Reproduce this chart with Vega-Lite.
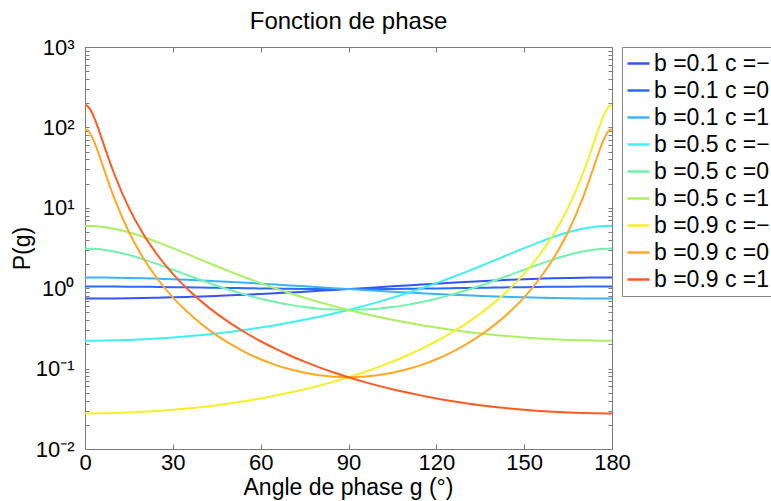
{
  "$schema": "https://vega.github.io/schema/vega-lite/v6.json",
  "autosize": {"type": "none"},
  "padding": {"left": 85, "top": 47, "right": 160, "bottom": 52},
  "width": 527,
  "height": 402,
  "title": {"text": "Fonction de phase", "fontSize": 24, "font": "Liberation Sans", "fontWeight": "normal", "color": "black", "offset": 8, "dy": 25, "anchor": "middle", "baseline": "alphabetic"},
  "config": {
    "view": {"stroke": null},
    "font": "Liberation Sans",
    "axis": {"labelFont": "Liberation Sans", "titleFont": "Liberation Sans", "labelFontSize": 22, "titleFontSize": 23, "titleFontWeight": "normal", "labelColor": "black", "titleColor": "black", "domainColor": "#7a7a7a", "tickColor": "#7a7a7a", "grid": false, "labelOverlap": false, "labelFlush": false},
    "legend": {"labelFont": "Liberation Sans", "labelFontSize": 23, "labelColor": "black", "labelLimit": 400}
  },
  "data": {"values": [
    {"g":0,"P":0.744,"s":"b =0.1 c =−1"},{"g":5,"P":0.745,"s":"b =0.1 c =−1"},{"g":10,"P":0.747,"s":"b =0.1 c =−1"},{"g":15,"P":0.750,"s":"b =0.1 c =−1"},{"g":20,"P":0.755,"s":"b =0.1 c =−1"},{"g":25,"P":0.761,"s":"b =0.1 c =−1"},{"g":30,"P":0.769,"s":"b =0.1 c =−1"},{"g":35,"P":0.778,"s":"b =0.1 c =−1"},{"g":40,"P":0.789,"s":"b =0.1 c =−1"},{"g":45,"P":0.801,"s":"b =0.1 c =−1"},{"g":50,"P":0.815,"s":"b =0.1 c =−1"},{"g":55,"P":0.830,"s":"b =0.1 c =−1"},{"g":60,"P":0.847,"s":"b =0.1 c =−1"},{"g":65,"P":0.865,"s":"b =0.1 c =−1"},{"g":70,"P":0.884,"s":"b =0.1 c =−1"},{"g":75,"P":0.905,"s":"b =0.1 c =−1"},{"g":80,"P":0.927,"s":"b =0.1 c =−1"},{"g":85,"P":0.951,"s":"b =0.1 c =−1"},{"g":90,"P":0.975,"s":"b =0.1 c =−1"},{"g":95,"P":1.001,"s":"b =0.1 c =−1"},{"g":100,"P":1.028,"s":"b =0.1 c =−1"},{"g":105,"P":1.055,"s":"b =0.1 c =−1"},{"g":110,"P":1.084,"s":"b =0.1 c =−1"},{"g":115,"P":1.112,"s":"b =0.1 c =−1"},{"g":120,"P":1.140,"s":"b =0.1 c =−1"},{"g":125,"P":1.169,"s":"b =0.1 c =−1"},{"g":130,"P":1.196,"s":"b =0.1 c =−1"},{"g":135,"P":1.223,"s":"b =0.1 c =−1"},{"g":140,"P":1.248,"s":"b =0.1 c =−1"},{"g":145,"P":1.272,"s":"b =0.1 c =−1"},{"g":150,"P":1.293,"s":"b =0.1 c =−1"},{"g":155,"P":1.312,"s":"b =0.1 c =−1"},{"g":160,"P":1.328,"s":"b =0.1 c =−1"},{"g":165,"P":1.341,"s":"b =0.1 c =−1"},{"g":170,"P":1.350,"s":"b =0.1 c =−1"},{"g":175,"P":1.356,"s":"b =0.1 c =−1"},{"g":180,"P":1.358,"s":"b =0.1 c =−1"},

    {"g":0,"P":1.051,"s":"b =0.1 c =0"},{"g":5,"P":1.051,"s":"b =0.1 c =0"},{"g":10,"P":1.049,"s":"b =0.1 c =0"},{"g":15,"P":1.046,"s":"b =0.1 c =0"},{"g":20,"P":1.042,"s":"b =0.1 c =0"},{"g":25,"P":1.037,"s":"b =0.1 c =0"},{"g":30,"P":1.031,"s":"b =0.1 c =0"},{"g":35,"P":1.025,"s":"b =0.1 c =0"},{"g":40,"P":1.019,"s":"b =0.1 c =0"},{"g":45,"P":1.012,"s":"b =0.1 c =0"},{"g":50,"P":1.006,"s":"b =0.1 c =0"},{"g":55,"P":1.000,"s":"b =0.1 c =0"},{"g":60,"P":0.994,"s":"b =0.1 c =0"},{"g":65,"P":0.989,"s":"b =0.1 c =0"},{"g":70,"P":0.984,"s":"b =0.1 c =0"},{"g":75,"P":0.980,"s":"b =0.1 c =0"},{"g":80,"P":0.978,"s":"b =0.1 c =0"},{"g":85,"P":0.976,"s":"b =0.1 c =0"},{"g":90,"P":0.975,"s":"b =0.1 c =0"},{"g":95,"P":0.976,"s":"b =0.1 c =0"},{"g":100,"P":0.978,"s":"b =0.1 c =0"},{"g":105,"P":0.980,"s":"b =0.1 c =0"},{"g":110,"P":0.984,"s":"b =0.1 c =0"},{"g":115,"P":0.989,"s":"b =0.1 c =0"},{"g":120,"P":0.994,"s":"b =0.1 c =0"},{"g":125,"P":1.000,"s":"b =0.1 c =0"},{"g":130,"P":1.006,"s":"b =0.1 c =0"},{"g":135,"P":1.012,"s":"b =0.1 c =0"},{"g":140,"P":1.019,"s":"b =0.1 c =0"},{"g":145,"P":1.025,"s":"b =0.1 c =0"},{"g":150,"P":1.031,"s":"b =0.1 c =0"},{"g":155,"P":1.037,"s":"b =0.1 c =0"},{"g":160,"P":1.042,"s":"b =0.1 c =0"},{"g":165,"P":1.046,"s":"b =0.1 c =0"},{"g":170,"P":1.049,"s":"b =0.1 c =0"},{"g":175,"P":1.051,"s":"b =0.1 c =0"},{"g":180,"P":1.051,"s":"b =0.1 c =0"},

    {"g":0,"P":1.358,"s":"b =0.1 c =1"},{"g":5,"P":1.356,"s":"b =0.1 c =1"},{"g":10,"P":1.350,"s":"b =0.1 c =1"},{"g":15,"P":1.341,"s":"b =0.1 c =1"},{"g":20,"P":1.328,"s":"b =0.1 c =1"},{"g":25,"P":1.312,"s":"b =0.1 c =1"},{"g":30,"P":1.293,"s":"b =0.1 c =1"},{"g":35,"P":1.272,"s":"b =0.1 c =1"},{"g":40,"P":1.248,"s":"b =0.1 c =1"},{"g":45,"P":1.223,"s":"b =0.1 c =1"},{"g":50,"P":1.196,"s":"b =0.1 c =1"},{"g":55,"P":1.169,"s":"b =0.1 c =1"},{"g":60,"P":1.140,"s":"b =0.1 c =1"},{"g":65,"P":1.112,"s":"b =0.1 c =1"},{"g":70,"P":1.084,"s":"b =0.1 c =1"},{"g":75,"P":1.055,"s":"b =0.1 c =1"},{"g":80,"P":1.028,"s":"b =0.1 c =1"},{"g":85,"P":1.001,"s":"b =0.1 c =1"},{"g":90,"P":0.975,"s":"b =0.1 c =1"},{"g":95,"P":0.951,"s":"b =0.1 c =1"},{"g":100,"P":0.927,"s":"b =0.1 c =1"},{"g":105,"P":0.905,"s":"b =0.1 c =1"},{"g":110,"P":0.884,"s":"b =0.1 c =1"},{"g":115,"P":0.865,"s":"b =0.1 c =1"},{"g":120,"P":0.847,"s":"b =0.1 c =1"},{"g":125,"P":0.830,"s":"b =0.1 c =1"},{"g":130,"P":0.815,"s":"b =0.1 c =1"},{"g":135,"P":0.801,"s":"b =0.1 c =1"},{"g":140,"P":0.789,"s":"b =0.1 c =1"},{"g":145,"P":0.778,"s":"b =0.1 c =1"},{"g":150,"P":0.769,"s":"b =0.1 c =1"},{"g":155,"P":0.761,"s":"b =0.1 c =1"},{"g":160,"P":0.755,"s":"b =0.1 c =1"},{"g":165,"P":0.750,"s":"b =0.1 c =1"},{"g":170,"P":0.747,"s":"b =0.1 c =1"},{"g":175,"P":0.745,"s":"b =0.1 c =1"},{"g":180,"P":0.744,"s":"b =0.1 c =1"},

    {"g":0,"P":0.2222,"s":"b =0.5 c =−1"},{"g":5,"P":0.2228,"s":"b =0.5 c =−1"},{"g":10,"P":0.2245,"s":"b =0.5 c =−1"},{"g":15,"P":0.2274,"s":"b =0.5 c =−1"},{"g":20,"P":0.2315,"s":"b =0.5 c =−1"},{"g":25,"P":0.2369,"s":"b =0.5 c =−1"},{"g":30,"P":0.2437,"s":"b =0.5 c =−1"},{"g":35,"P":0.2520,"s":"b =0.5 c =−1"},{"g":40,"P":0.2620,"s":"b =0.5 c =−1"},{"g":45,"P":0.2739,"s":"b =0.5 c =−1"},{"g":50,"P":0.2880,"s":"b =0.5 c =−1"},{"g":55,"P":0.3046,"s":"b =0.5 c =−1"},{"g":60,"P":0.3240,"s":"b =0.5 c =−1"},{"g":65,"P":0.3467,"s":"b =0.5 c =−1"},{"g":70,"P":0.3734,"s":"b =0.5 c =−1"},{"g":75,"P":0.4047,"s":"b =0.5 c =−1"},{"g":80,"P":0.4415,"s":"b =0.5 c =−1"},{"g":85,"P":0.4851,"s":"b =0.5 c =−1"},{"g":90,"P":0.5367,"s":"b =0.5 c =−1"},{"g":95,"P":0.5981,"s":"b =0.5 c =−1"},{"g":100,"P":0.6716,"s":"b =0.5 c =−1"},{"g":105,"P":0.7600,"s":"b =0.5 c =−1"},{"g":110,"P":0.8669,"s":"b =0.5 c =−1"},{"g":115,"P":0.9966,"s":"b =0.5 c =−1"},{"g":120,"P":1.155,"s":"b =0.5 c =−1"},{"g":125,"P":1.348,"s":"b =0.5 c =−1"},{"g":130,"P":1.585,"s":"b =0.5 c =−1"},{"g":135,"P":1.875,"s":"b =0.5 c =−1"},{"g":140,"P":2.228,"s":"b =0.5 c =−1"},{"g":145,"P":2.652,"s":"b =0.5 c =−1"},{"g":150,"P":3.152,"s":"b =0.5 c =−1"},{"g":155,"P":3.722,"s":"b =0.5 c =−1"},{"g":160,"P":4.339,"s":"b =0.5 c =−1"},{"g":165,"P":4.954,"s":"b =0.5 c =−1"},{"g":170,"P":5.492,"s":"b =0.5 c =−1"},{"g":175,"P":5.866,"s":"b =0.5 c =−1"},{"g":180,"P":6.000,"s":"b =0.5 c =−1"},

    {"g":0,"P":3.111,"s":"b =0.5 c =0"},{"g":5,"P":3.044,"s":"b =0.5 c =0"},{"g":10,"P":2.858,"s":"b =0.5 c =0"},{"g":15,"P":2.591,"s":"b =0.5 c =0"},{"g":20,"P":2.285,"s":"b =0.5 c =0"},{"g":25,"P":1.980,"s":"b =0.5 c =0"},{"g":30,"P":1.698,"s":"b =0.5 c =0"},{"g":35,"P":1.452,"s":"b =0.5 c =0"},{"g":40,"P":1.245,"s":"b =0.5 c =0"},{"g":45,"P":1.074,"s":"b =0.5 c =0"},{"g":50,"P":0.9365,"s":"b =0.5 c =0"},{"g":55,"P":0.8263,"s":"b =0.5 c =0"},{"g":60,"P":0.7395,"s":"b =0.5 c =0"},{"g":65,"P":0.6717,"s":"b =0.5 c =0"},{"g":70,"P":0.6202,"s":"b =0.5 c =0"},{"g":75,"P":0.5824,"s":"b =0.5 c =0"},{"g":80,"P":0.5566,"s":"b =0.5 c =0"},{"g":85,"P":0.5416,"s":"b =0.5 c =0"},{"g":90,"P":0.5367,"s":"b =0.5 c =0"},{"g":95,"P":0.5416,"s":"b =0.5 c =0"},{"g":100,"P":0.5566,"s":"b =0.5 c =0"},{"g":105,"P":0.5824,"s":"b =0.5 c =0"},{"g":110,"P":0.6202,"s":"b =0.5 c =0"},{"g":115,"P":0.6717,"s":"b =0.5 c =0"},{"g":120,"P":0.7395,"s":"b =0.5 c =0"},{"g":125,"P":0.8263,"s":"b =0.5 c =0"},{"g":130,"P":0.9365,"s":"b =0.5 c =0"},{"g":135,"P":1.074,"s":"b =0.5 c =0"},{"g":140,"P":1.245,"s":"b =0.5 c =0"},{"g":145,"P":1.452,"s":"b =0.5 c =0"},{"g":150,"P":1.698,"s":"b =0.5 c =0"},{"g":155,"P":1.980,"s":"b =0.5 c =0"},{"g":160,"P":2.285,"s":"b =0.5 c =0"},{"g":165,"P":2.591,"s":"b =0.5 c =0"},{"g":170,"P":2.858,"s":"b =0.5 c =0"},{"g":175,"P":3.044,"s":"b =0.5 c =0"},{"g":180,"P":3.111,"s":"b =0.5 c =0"},

    {"g":0,"P":6.000,"s":"b =0.5 c =1"},{"g":5,"P":5.866,"s":"b =0.5 c =1"},{"g":10,"P":5.492,"s":"b =0.5 c =1"},{"g":15,"P":4.954,"s":"b =0.5 c =1"},{"g":20,"P":4.339,"s":"b =0.5 c =1"},{"g":25,"P":3.722,"s":"b =0.5 c =1"},{"g":30,"P":3.152,"s":"b =0.5 c =1"},{"g":35,"P":2.652,"s":"b =0.5 c =1"},{"g":40,"P":2.228,"s":"b =0.5 c =1"},{"g":45,"P":1.875,"s":"b =0.5 c =1"},{"g":50,"P":1.585,"s":"b =0.5 c =1"},{"g":55,"P":1.348,"s":"b =0.5 c =1"},{"g":60,"P":1.155,"s":"b =0.5 c =1"},{"g":65,"P":0.9966,"s":"b =0.5 c =1"},{"g":70,"P":0.8669,"s":"b =0.5 c =1"},{"g":75,"P":0.7600,"s":"b =0.5 c =1"},{"g":80,"P":0.6716,"s":"b =0.5 c =1"},{"g":85,"P":0.5981,"s":"b =0.5 c =1"},{"g":90,"P":0.5367,"s":"b =0.5 c =1"},{"g":95,"P":0.4851,"s":"b =0.5 c =1"},{"g":100,"P":0.4415,"s":"b =0.5 c =1"},{"g":105,"P":0.4047,"s":"b =0.5 c =1"},{"g":110,"P":0.3734,"s":"b =0.5 c =1"},{"g":115,"P":0.3467,"s":"b =0.5 c =1"},{"g":120,"P":0.3240,"s":"b =0.5 c =1"},{"g":125,"P":0.3046,"s":"b =0.5 c =1"},{"g":130,"P":0.2880,"s":"b =0.5 c =1"},{"g":135,"P":0.2739,"s":"b =0.5 c =1"},{"g":140,"P":0.2620,"s":"b =0.5 c =1"},{"g":145,"P":0.2520,"s":"b =0.5 c =1"},{"g":150,"P":0.2437,"s":"b =0.5 c =1"},{"g":155,"P":0.2369,"s":"b =0.5 c =1"},{"g":160,"P":0.2315,"s":"b =0.5 c =1"},{"g":165,"P":0.2274,"s":"b =0.5 c =1"},{"g":170,"P":0.2245,"s":"b =0.5 c =1"},{"g":175,"P":0.2228,"s":"b =0.5 c =1"},{"g":180,"P":0.2222,"s":"b =0.5 c =1"},

    {"g":0,"P":0.02770,"s":"b =0.9 c =−1"},{"g":5,"P":0.02778,"s":"b =0.9 c =−1"},{"g":10,"P":0.02802,"s":"b =0.9 c =−1"},{"g":15,"P":0.02842,"s":"b =0.9 c =−1"},{"g":20,"P":0.02900,"s":"b =0.9 c =−1"},{"g":25,"P":0.02976,"s":"b =0.9 c =−1"},{"g":30,"P":0.03073,"s":"b =0.9 c =−1"},{"g":35,"P":0.03192,"s":"b =0.9 c =−1"},{"g":40,"P":0.03337,"s":"b =0.9 c =−1"},{"g":45,"P":0.03510,"s":"b =0.9 c =−1"},{"g":50,"P":0.03718,"s":"b =0.9 c =−1"},{"g":55,"P":0.03965,"s":"b =0.9 c =−1"},{"g":60,"P":0.04259,"s":"b =0.9 c =−1"},{"g":65,"P":0.04610,"s":"b =0.9 c =−1"},{"g":70,"P":0.05029,"s":"b =0.9 c =−1"},{"g":75,"P":0.05534,"s":"b =0.9 c =−1"},{"g":80,"P":0.06144,"s":"b =0.9 c =−1"},{"g":85,"P":0.06888,"s":"b =0.9 c =−1"},{"g":90,"P":0.07803,"s":"b =0.9 c =−1"},{"g":95,"P":0.08939,"s":"b =0.9 c =−1"},{"g":100,"P":0.1037,"s":"b =0.9 c =−1"},{"g":105,"P":0.1219,"s":"b =0.9 c =−1"},{"g":110,"P":0.1456,"s":"b =0.9 c =−1"},{"g":115,"P":0.1768,"s":"b =0.9 c =−1"},{"g":120,"P":0.2189,"s":"b =0.9 c =−1"},{"g":125,"P":0.2771,"s":"b =0.9 c =−1"},{"g":130,"P":0.3601,"s":"b =0.9 c =−1"},{"g":135,"P":0.4825,"s":"b =0.9 c =−1"},{"g":140,"P":0.6712,"s":"b =0.9 c =−1"},{"g":145,"P":0.9776,"s":"b =0.9 c =−1"},{"g":150,"P":1.510,"s":"b =0.9 c =−1"},{"g":155,"P":2.516,"s":"b =0.9 c =−1"},{"g":160,"P":4.655,"s":"b =0.9 c =−1"},{"g":165,"P":9.973,"s":"b =0.9 c =−1"},{"g":170,"P":26.33,"s":"b =0.9 c =−1"},{"g":171,"P":32.94,"s":"b =0.9 c =−1"},{"g":172,"P":41.62,"s":"b =0.9 c =−1"},{"g":173,"P":53.02,"s":"b =0.9 c =−1"},{"g":174,"P":67.88,"s":"b =0.9 c =−1"},{"g":175,"P":86.87,"s":"b =0.9 c =−1"},{"g":176,"P":110.13,"s":"b =0.9 c =−1"},{"g":177,"P":136.49,"s":"b =0.9 c =−1"},{"g":178,"P":162.54,"s":"b =0.9 c =−1"},{"g":179,"P":182.45,"s":"b =0.9 c =−1"},{"g":180,"P":190,"s":"b =0.9 c =−1"},

    {"g":0,"P":95.01,"s":"b =0.9 c =0"},{"g":1,"P":91.24,"s":"b =0.9 c =0"},{"g":2,"P":81.28,"s":"b =0.9 c =0"},{"g":3,"P":68.26,"s":"b =0.9 c =0"},{"g":4,"P":55.08,"s":"b =0.9 c =0"},{"g":5,"P":43.45,"s":"b =0.9 c =0"},{"g":6,"P":33.95,"s":"b =0.9 c =0"},{"g":7,"P":26.52,"s":"b =0.9 c =0"},{"g":8,"P":20.82,"s":"b =0.9 c =0"},{"g":9,"P":16.48,"s":"b =0.9 c =0"},{"g":10,"P":13.18,"s":"b =0.9 c =0"},{"g":15,"P":5.001,"s":"b =0.9 c =0"},{"g":20,"P":2.342,"s":"b =0.9 c =0"},{"g":25,"P":1.273,"s":"b =0.9 c =0"},{"g":30,"P":0.7701,"s":"b =0.9 c =0"},{"g":35,"P":0.5048,"s":"b =0.9 c =0"},{"g":40,"P":0.3523,"s":"b =0.9 c =0"},{"g":45,"P":0.2588,"s":"b =0.9 c =0"},{"g":50,"P":0.1986,"s":"b =0.9 c =0"},{"g":55,"P":0.1584,"s":"b =0.9 c =0"},{"g":60,"P":0.1307,"s":"b =0.9 c =0"},{"g":65,"P":0.1114,"s":"b =0.9 c =0"},{"g":70,"P":0.09793,"s":"b =0.9 c =0"},{"g":75,"P":0.08864,"s":"b =0.9 c =0"},{"g":80,"P":0.08257,"s":"b =0.9 c =0"},{"g":85,"P":0.07914,"s":"b =0.9 c =0"},{"g":90,"P":0.07803,"s":"b =0.9 c =0"},{"g":95,"P":0.07914,"s":"b =0.9 c =0"},{"g":100,"P":0.08257,"s":"b =0.9 c =0"},{"g":105,"P":0.08864,"s":"b =0.9 c =0"},{"g":110,"P":0.09793,"s":"b =0.9 c =0"},{"g":115,"P":0.1114,"s":"b =0.9 c =0"},{"g":120,"P":0.1307,"s":"b =0.9 c =0"},{"g":125,"P":0.1584,"s":"b =0.9 c =0"},{"g":130,"P":0.1986,"s":"b =0.9 c =0"},{"g":135,"P":0.2588,"s":"b =0.9 c =0"},{"g":140,"P":0.3523,"s":"b =0.9 c =0"},{"g":145,"P":0.5048,"s":"b =0.9 c =0"},{"g":150,"P":0.7701,"s":"b =0.9 c =0"},{"g":155,"P":1.273,"s":"b =0.9 c =0"},{"g":160,"P":2.342,"s":"b =0.9 c =0"},{"g":165,"P":5.001,"s":"b =0.9 c =0"},{"g":170,"P":13.18,"s":"b =0.9 c =0"},{"g":171,"P":16.48,"s":"b =0.9 c =0"},{"g":172,"P":20.82,"s":"b =0.9 c =0"},{"g":173,"P":26.52,"s":"b =0.9 c =0"},{"g":174,"P":33.95,"s":"b =0.9 c =0"},{"g":175,"P":43.45,"s":"b =0.9 c =0"},{"g":176,"P":55.08,"s":"b =0.9 c =0"},{"g":177,"P":68.26,"s":"b =0.9 c =0"},{"g":178,"P":81.28,"s":"b =0.9 c =0"},{"g":179,"P":91.24,"s":"b =0.9 c =0"},{"g":180,"P":95.01,"s":"b =0.9 c =0"},

    {"g":0,"P":190,"s":"b =0.9 c =1"},{"g":1,"P":182.45,"s":"b =0.9 c =1"},{"g":2,"P":162.54,"s":"b =0.9 c =1"},{"g":3,"P":136.49,"s":"b =0.9 c =1"},{"g":4,"P":110.13,"s":"b =0.9 c =1"},{"g":5,"P":86.87,"s":"b =0.9 c =1"},{"g":6,"P":67.88,"s":"b =0.9 c =1"},{"g":7,"P":53.02,"s":"b =0.9 c =1"},{"g":8,"P":41.62,"s":"b =0.9 c =1"},{"g":9,"P":32.94,"s":"b =0.9 c =1"},{"g":10,"P":26.33,"s":"b =0.9 c =1"},{"g":15,"P":9.973,"s":"b =0.9 c =1"},{"g":20,"P":4.655,"s":"b =0.9 c =1"},{"g":25,"P":2.516,"s":"b =0.9 c =1"},{"g":30,"P":1.510,"s":"b =0.9 c =1"},{"g":35,"P":0.9776,"s":"b =0.9 c =1"},{"g":40,"P":0.6712,"s":"b =0.9 c =1"},{"g":45,"P":0.4825,"s":"b =0.9 c =1"},{"g":50,"P":0.3601,"s":"b =0.9 c =1"},{"g":55,"P":0.2771,"s":"b =0.9 c =1"},{"g":60,"P":0.2189,"s":"b =0.9 c =1"},{"g":65,"P":0.1768,"s":"b =0.9 c =1"},{"g":70,"P":0.1456,"s":"b =0.9 c =1"},{"g":75,"P":0.1219,"s":"b =0.9 c =1"},{"g":80,"P":0.1037,"s":"b =0.9 c =1"},{"g":85,"P":0.08939,"s":"b =0.9 c =1"},{"g":90,"P":0.07803,"s":"b =0.9 c =1"},{"g":95,"P":0.06888,"s":"b =0.9 c =1"},{"g":100,"P":0.06144,"s":"b =0.9 c =1"},{"g":105,"P":0.05534,"s":"b =0.9 c =1"},{"g":110,"P":0.05029,"s":"b =0.9 c =1"},{"g":115,"P":0.04610,"s":"b =0.9 c =1"},{"g":120,"P":0.04259,"s":"b =0.9 c =1"},{"g":125,"P":0.03965,"s":"b =0.9 c =1"},{"g":130,"P":0.03718,"s":"b =0.9 c =1"},{"g":135,"P":0.03510,"s":"b =0.9 c =1"},{"g":140,"P":0.03337,"s":"b =0.9 c =1"},{"g":145,"P":0.03192,"s":"b =0.9 c =1"},{"g":150,"P":0.03073,"s":"b =0.9 c =1"},{"g":155,"P":0.02976,"s":"b =0.9 c =1"},{"g":160,"P":0.02900,"s":"b =0.9 c =1"},{"g":165,"P":0.02842,"s":"b =0.9 c =1"},{"g":170,"P":0.02802,"s":"b =0.9 c =1"},{"g":175,"P":0.02778,"s":"b =0.9 c =1"},{"g":180,"P":0.02770,"s":"b =0.9 c =1"}
  ]},
  "layer": [
    {
      "mark": {"type": "line", "strokeWidth": 2, "interpolate": "monotone", "clip": true},
      "encoding": {
        "x": {"field": "g", "type": "quantitative", "scale": {"domain": [0, 180], "nice": false, "zero": false},
          "axis": {"orient": "bottom", "values": [0, 30, 60, 90, 120, 150, 180], "tickSize": -5, "labelPadding": 8, "title": "Angle de phase g (°)", "titleX": 263, "titleY": 45, "titleBaseline": "alphabetic", "titleAlign": "center"}},
        "y": {"field": "P", "type": "quantitative", "scale": {"type": "log", "domain": [0.01, 1000], "nice": false},
          "axis": {"orient": "left", "values": [0.01,0.02,0.03,0.04,0.05,0.06,0.07,0.08,0.09,0.1,0.2,0.3,0.4,0.5,0.6,0.7,0.8,0.9,1,2,3,4,5,6,7,8,9,10,20,30,40,50,60,70,80,90,100,200,300,400,500,600,700,800,900,1000],
            "labelExpr": "datum.value==1000?'10³':datum.value==100?'10²':datum.value==10?'10¹':datum.value==1?'10⁰':datum.value==0.1?'10⁻¹':datum.value==0.01?'10⁻²':''",
            "tickSize": -4, "labelPadding": 15, "title": "P(g)", "titleX": -63, "titleY": 201, "titleBaseline": "middle", "titleAlign": "center", "titleAngle": -90}},
        "color": {"field": "s", "type": "nominal",
          "scale": {"domain": ["b =0.1 c =−1", "b =0.1 c =0", "b =0.1 c =1", "b =0.5 c =−1", "b =0.5 c =0", "b =0.5 c =1", "b =0.9 c =−1", "b =0.9 c =0", "b =0.9 c =1"],
            "range": ["#3454fa", "#2a6af8", "#3cb2ff", "#40f0f5", "#72f2aa", "#aaf062", "#f6f022", "#ffa824", "#ff5a20"]},
          "legend": {"orient": "none", "legendX": 537, "legendY": 0, "title": null, "strokeColor": "#888", "fillColor": "white", "padding": 4, "symbolType": "stroke", "symbolStrokeWidth": 2.5, "symbolSize": 484, "rowPadding": 2, "labelOffset": 3}}
      }
    },
    {
      "mark": {"type": "line", "opacity": 0},
      "encoding": {
        "x": {"field": "g", "type": "quantitative", "axis": {"orient": "top", "values": [0, 30, 60, 90, 120, 150, 180], "tickSize": -5, "labels": false, "title": null}},
        "y": {"field": "P", "type": "quantitative", "axis": {"orient": "right", "values": [0.01,0.02,0.03,0.04,0.05,0.06,0.07,0.08,0.09,0.1,0.2,0.3,0.4,0.5,0.6,0.7,0.8,0.9,1,2,3,4,5,6,7,8,9,10,20,30,40,50,60,70,80,90,100,200,300,400,500,600,700,800,900,1000], "tickSize": -4, "labels": false, "title": null}}
      }
    }
  ],
  "resolve": {"axis": {"x": "independent", "y": "independent"}}
}
